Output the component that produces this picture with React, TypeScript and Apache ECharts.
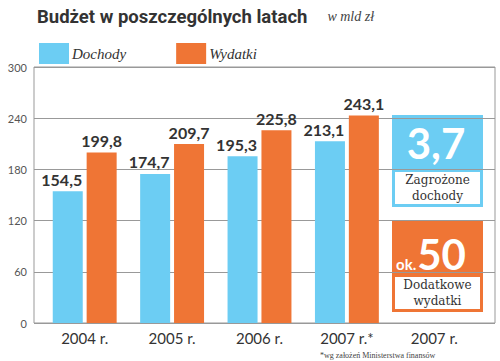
import React, { useEffect, useRef } from "react";
import * as echarts from "echarts";

const categories = ["2004 r.", "2005 r.", "2006 r.", "2007 r.*", "2007 r."];
const dochody: (number | null)[] = [154.5, 174.7, 195.3, 213.1, null];
const wydatki: (number | null)[] = [199.8, 209.7, 225.8, 243.1, null];
const yTicks = { min: 0, max: 300, interval: 60 };
const zagrozoneDochody = "3,7";
const dodatkoweWydatki = "50";

const BLUE = "#6CCDF3";
const ORANGE = "#EF7535";
const fmt = (v: number) => v.toFixed(1).replace(".", ",");

export default function App() {
  const ref = useRef<HTMLDivElement>(null);
  useEffect(() => {
    const chart = echarts.init(ref.current!, null, { renderer: "svg" });
    const sans = "Lato";
    chart.setOption({
      animation: false,
      backgroundColor: "#fff",
      title: {
        left: 32,
        top: 2,
        text: "{a|Budżet w poszczególnych latach}    {b|w mld zł}",
        textStyle: {
          rich: {
            a: { fontFamily: "Roboto", fontWeight: "bold", fontSize: 18.5, color: "#333" },
            b: { fontFamily: "Liberation Serif", fontStyle: "italic", fontWeight: "normal", fontSize: 14, color: "#444" },
          },
        },
      },
      legend: {
        left: 34,
        top: 38,
        itemWidth: 30,
        itemHeight: 21,
        itemGap: 50,
        icon: "rect",
        textStyle: {
          fontFamily: "Liberation Serif",
          fontStyle: "italic",
          fontSize: 15,
          color: "#333",
          padding: [0, 0, 0, -2],
        },
        data: ["Dochody", "Wydatki"],
      },
      grid: [
        { left: 34, right: 5, top: 67, bottom: 38, show: true, borderColor: "#999", borderWidth: 1 },
        { left: 41, right: 22, top: 67, bottom: 38 },
      ],
      xAxis: [
        { gridIndex: 0, type: "value", show: false, min: 0, max: 1 },
        {
          gridIndex: 1,
          type: "category",
          data: categories,
          axisLine: { show: false },
          axisTick: { show: false },
          axisLabel: { fontFamily: sans, fontSize: 15, color: "#333", margin: 7 },
        },
      ],
      yAxis: [
        {
          gridIndex: 0,
          type: "value",
          ...yTicks,
          axisLine: { show: false },
          axisTick: { show: false },
          splitLine: { lineStyle: { color: "#999", width: 1 } },
          axisLabel: { fontFamily: sans, fontSize: 11, color: "#555", margin: 7 },
        },
        { gridIndex: 1, type: "value", ...yTicks, show: false, splitLine: { show: false } },
      ],
      series: [
        {
          name: "Dochody",
          type: "bar",
          xAxisIndex: 1,
          yAxisIndex: 1,
          data: dochody,
          barWidth: 30,
          barGap: "13%",
          itemStyle: { color: BLUE },
          label: {
            show: true,
            position: "top",
            distance: 4,
            offset: [-6, 0],
            fontFamily: sans,
            fontWeight: "bold",
            fontSize: 16,
            color: "#333",
            formatter: (p: any) => fmt(p.value),
          },
        },
        {
          name: "Wydatki",
          type: "bar",
          xAxisIndex: 1,
          yAxisIndex: 1,
          data: wydatki,
          barWidth: 30,
          itemStyle: { color: ORANGE },
          label: {
            show: true,
            position: "top",
            distance: 4,
            fontFamily: sans,
            fontWeight: "bold",
            fontSize: 16,
            color: "#333",
            formatter: (p: any) => fmt(p.value),
          },
        },
      ],
      graphic: [
        { type: "rect", shape: { x: 392, y: 115, width: 91, height: 92 }, style: { fill: BLUE } },
        { type: "rect", shape: { x: 395, y: 172, width: 85, height: 32 }, style: { fill: "#fff" } },
        {
          type: "text",
          x: 436,
          y: 143,
          style: {
            text: zagrozoneDochody,
            fill: "#fff",
            fontFamily: sans,
            fontWeight: "bold",
            fontSize: 42,
            align: "center",
            verticalAlign: "middle",
          },
        },
        {
          type: "text",
          x: 437.5,
          y: 188,
          style: {
            text: "Zagrożone\ndochody",
            fill: "#333",
            fontFamily: "DejaVu Serif",
            fontSize: 12,
            lineHeight: 16,
            align: "center",
            verticalAlign: "middle",
          },
        },
        { type: "rect", shape: { x: 392, y: 221, width: 91, height: 91 }, style: { fill: ORANGE } },
        { type: "rect", shape: { x: 395, y: 277, width: 85, height: 32 }, style: { fill: "#fff" } },
        {
          type: "text",
          x: 431,
          y: 275,
          style: {
            text: "{s|ok.}{b|" + dodatkoweWydatki + "}",
            fill: "#fff",
            align: "center",
            verticalAlign: "bottom",
            rich: {
              s: { fontFamily: sans, fontWeight: "bold", fontSize: 15, fill: "#fff", verticalAlign: "bottom", padding: [0, 1, 4, 0] },
              b: { fontFamily: sans, fontWeight: "bold", fontSize: 42, fill: "#fff", verticalAlign: "bottom" },
            },
          },
        },
        {
          type: "text",
          x: 437.5,
          y: 293,
          style: {
            text: "Dodatkowe\nwydatki",
            fill: "#333",
            fontFamily: "DejaVu Serif",
            fontSize: 12,
            lineHeight: 16,
            align: "center",
            verticalAlign: "middle",
          },
        },
        {
          type: "text",
          x: 320,
          y: 355,
          style: {
            text: "*wg założeń Ministerstwa finansów",
            fill: "#444",
            fontFamily: "Liberation Serif",
            fontSize: 8,
            align: "left",
            verticalAlign: "middle",
          },
        },
      ],
    });
    return () => chart.dispose();
  }, []);
  return <div ref={ref} style={{ width: 500, height: 361, position: "absolute", left: 0, top: 0 }} />;
}
